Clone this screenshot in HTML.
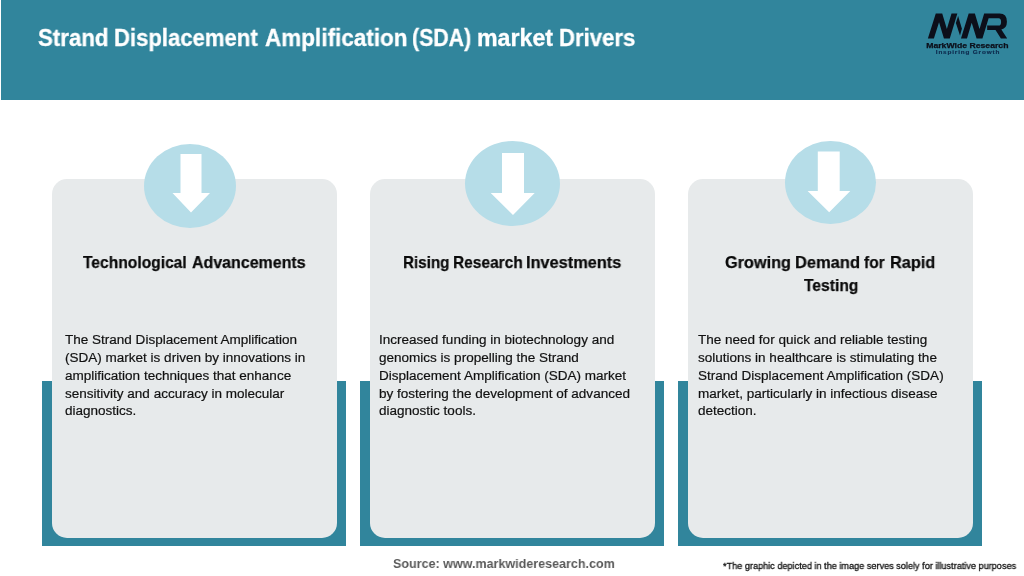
<!DOCTYPE html>
<html><head><meta charset="utf-8">
<style>
html,body{margin:0;padding:0;}
body{width:1024px;height:576px;position:relative;overflow:hidden;background:#fff;font-family:"Liberation Sans",sans-serif;}
.hdr{position:absolute;left:1px;top:0;width:1023px;height:100px;background:#31859c;}
.teal{position:absolute;top:381px;height:164.7px;width:303.5px;background:#31859c;}
.card{position:absolute;top:178.6px;height:359.4px;width:285px;background:#e7eaeb;border-radius:15px;}
.circ{position:absolute;top:143.8px;width:92px;height:84px;border-radius:50%;background:#b6dde8;}
.b,.tw,.hw,.src,.note,svg{will-change:transform;}
.tw,.hw{position:absolute;white-space:nowrap;font-weight:bold;transform-origin:0 0;}
.tw{font-size:23px;line-height:34px;color:#fff;-webkit-text-stroke:0.3px #fff;}
.hw{font-size:17px;line-height:22.5px;color:#0a0a0a;-webkit-text-stroke:0.25px #0a0a0a;}
.b{position:absolute;font-size:13.53px;line-height:17.85px;color:#111;-webkit-text-stroke:0.2px #111;white-space:nowrap;}
.src{position:absolute;left:393px;top:556.3px;font-weight:bold;font-size:13.5px;color:#5a5a5a;white-space:nowrap;}
.note{position:absolute;left:722.6px;top:560.3px;font-size:9.5px;color:#111;-webkit-text-stroke:0.3px #111;white-space:nowrap;}
svg{position:absolute;left:0;top:0;}
</style></head><body>
<div class="hdr"></div>

<div class="teal" style="left:42.1px"></div>
<div class="teal" style="left:360.3px"></div>
<div class="teal" style="left:678.2px"></div>
<div class="card" style="left:51.8px"></div>
<div class="card" style="left:369.9px"></div>
<div class="card" style="left:688.2px"></div>
<div class="circ" style="left:143.7px"></div>
<div class="circ" style="left:465.3px;top:140.5px;width:94.6px;height:85px"></div>
<div class="circ" style="left:785.3px;top:140.5px;width:90.4px;height:83px"></div>

<svg width="1024" height="576" viewBox="0 0 1024 576">
 <g fill="#fff">
  <path id="arr" d="M180.5 154 H201.5 V193 H210 L191 212.5 L172.5 193 H180.5 Z"/>
  <path d="M502 152.9 H524 V193 H534.7 L513 215 L490.7 193 H502 Z"/>
  <path d="M817.8 151.6 H839.7 V191.1 H850.3 L829.2 212.2 L807.6 191.1 H817.8 Z"/>
 </g>
</svg>


<svg width="1024" height="576" viewBox="0 0 1024 576">
 <g transform="translate(924,8) scale(0.08594)" fill="#0c0f1a">
  <path d="M45 355 L115 355 L175 165 L232 355 L300 355 L388 65 L320 65 L266 245 L212 65 L137 65 Z"/>
  <path d="M397 94 L441 240 L419 320 L371 175 Z"/>
  <path d="M430 355 L500 355 L555 172 L612 355 L680 355 L752 120 L868 120 Q897 120 897 162 Q897 205 868 205 L735 205 L735 256 L832 256 L895 355 L968 355 L900 250 Q965 235 965 160 Q965 65 880 65 L700 65 L646 245 L592 65 L520 65 Z"/>
 </g>
 <text x="926.2" y="47.7" font-family="Liberation Sans" font-weight="bold" font-size="7.5" fill="#0c0f1a" stroke="#0c0f1a" stroke-width="0.25" textLength="82.3" lengthAdjust="spacingAndGlyphs">MarkWide Research</text>
 <g transform="translate(935.8,53.6) scale(1.25,1)"><text x="0" y="0" font-family="Liberation Sans" font-weight="bold" font-size="5.1" fill="#0d2a4d" stroke="#0d2a4d" stroke-width="0.15" textLength="50.8" lengthAdjust="spacing">Inspiring Growth</text></g>
</svg>

<!--WORDS-->
<span class="tw" style="left:38.25px;top:21.4px;transform:scaleX(0.9675)">Strand</span>
<span class="tw" style="left:114.12px;top:21.4px;transform:scaleX(0.9608)">Displacement</span>
<span class="tw" style="left:264.55px;top:21.4px;transform:scaleX(0.9785)">Amplification</span>
<span class="tw" style="left:412.40px;top:21.4px;transform:scaleX(0.9263)">(SDA)</span>
<span class="tw" style="left:477.15px;top:21.4px;transform:scaleX(1.0083)">market</span>
<span class="tw" style="left:558.52px;top:21.4px;transform:scaleX(0.9622)">Drivers</span>
<span class="hw" style="left:83.20px;top:252px;transform:scaleX(0.9176)">Technological</span>
<span class="hw" style="left:191.65px;top:252px;transform:scaleX(0.9393)">Advancements</span>
<span class="hw" style="left:402.95px;top:252px;transform:scaleX(0.8936)">Rising</span>
<span class="hw" style="left:452.63px;top:252px;transform:scaleX(0.9107)">Research</span>
<span class="hw" style="left:525.88px;top:252px;transform:scaleX(0.9605)">Investments</span>
<span class="hw" style="left:725.29px;top:252px;transform:scaleX(0.9566)">Growing</span>
<span class="hw" style="left:794.87px;top:252px;transform:scaleX(0.9689)">Demand</span>
<span class="hw" style="left:864.16px;top:252px;transform:scaleX(0.9118)">for</span>
<span class="hw" style="left:889.68px;top:252px;transform:scaleX(0.9607)">Rapid</span>
<span class="hw" style="left:803.60px;top:274.6px;transform:scaleX(0.9191)">Testing</span>
<!--/WORDS-->
<div class="b" style="left:64.9px;top:331px">The Strand Displacement Amplification<br>(SDA) market is driven by innovations in<br>amplification techniques that enhance<br>sensitivity and accuracy in molecular<br>diagnostics.</div>
<div class="b" style="left:379.3px;top:331px">Increased funding in biotechnology and<br>genomics is propelling the Strand<br>Displacement Amplification (SDA) market<br>by fostering the development of advanced<br>diagnostic tools.</div>
<div class="b" style="left:697.6px;top:331px">The need for quick and reliable testing<br>solutions in healthcare is stimulating the<br>Strand Displacement Amplification (SDA)<br>market, particularly in infectious disease<br>detection.</div>

<div class="src" id="src" style="transform-origin:0 50%;transform:scaleX(0.929)">Source: www.markwideresearch.com</div>
<div class="note" id="note" style="transform-origin:0 50%;transform:scaleX(0.962)">*The graphic depicted in the image serves solely for illustrative purposes</div>
</body></html>
